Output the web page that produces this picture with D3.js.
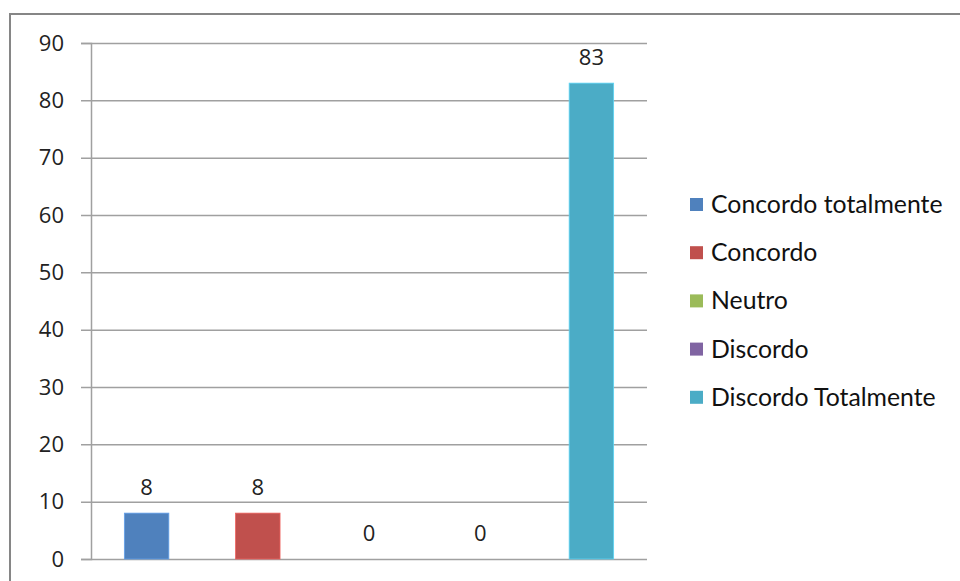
<!DOCTYPE html>
<html>
<head>
<meta charset="utf-8">
<script src="https://cdn.jsdelivr.net/npm/d3@7"></script>
<style>
  html, body { margin: 0; padding: 0; background: #fff; }
  svg { display: block; }
</style>
</head>
<body>
<svg id="chart" width="960" height="581"></svg>
<script>
// Survey answers and their share of responses
const categories = ["Concordo totalmente", "Concordo", "Neutro", "Discordo", "Discordo Totalmente"];
const values = [8, 8, 0, 0, 83];
const colors = ["#4F81BD", "#C0504D", "#9BBB59", "#8064A2", "#4BACC6"];
const yTicks = [0, 10, 20, 30, 40, 50, 60, 70, 80, 90];

const svg = d3.select("#chart");

// chart frame
svg.append("rect")
  .attr("x", 10).attr("y", 14)
  .attr("width", 970).attr("height", 600)
  .attr("fill", "#fff")
  .attr("stroke", "#868686").attr("stroke-width", 2);

const plot = { left: 91, right: 647, top: 43, bottom: 559 };

const x = d3.scaleBand()
  .domain(categories)
  .range([plot.left, plot.right])
  .paddingInner(0.6)
  .paddingOuter(0.3);

const y = d3.scaleLinear()
  .domain([0, 90])
  .range([plot.bottom, plot.top]);

// value axis with gridlines running across the plot
const grid = svg.append("g")
  .attr("transform", `translate(${plot.left},0)`)
  .call(d3.axisLeft(y)
    .tickValues(yTicks)
    .tickSize(10)
    .tickPadding(17)
    .tickFormat(d3.format("d")));

grid.select(".domain").attr("stroke", "#a0a0a0").attr("stroke-width", 1.5);
grid.selectAll(".tick line")
  .attr("x1", -10)
  .attr("x2", plot.right - plot.left)
  .attr("stroke", "#a0a0a0")
  .attr("stroke-width", 1.5);
grid.selectAll(".tick text")
  .attr("fill", "#222")
  .style("font-family", "'Open Sans', sans-serif")
  .style("font-size", "22px");

// bars
svg.append("g")
  .selectAll("rect")
  .data(values)
  .join("rect")
  .attr("x", (d, i) => x(categories[i]))
  .attr("y", d => y(d))
  .attr("width", x.bandwidth())
  .attr("height", d => y(0) - y(d))
  .attr("fill", (d, i) => colors[i])
  .attr("stroke", (d, i) => d3.color(colors[i]).brighter(0.6))
  .attr("stroke-width", 0.8);

// value labels above each bar
svg.append("g")
  .selectAll("text")
  .data(values)
  .join("text")
  .attr("x", (d, i) => x(categories[i]) + x.bandwidth() / 2)
  .attr("y", d => y(d) - 18)
  .attr("text-anchor", "middle")
  .attr("fill", "#222")
  .style("font-family", "'Open Sans', sans-serif")
  .style("font-size", "22px")
  .text(d => d);

// legend
const legend = svg.append("g").attr("transform", "translate(690,0)");
const rows = legend.selectAll("g")
  .data(categories)
  .join("g")
  .attr("transform", (d, i) => `translate(0,${205 + i * 48.2})`);

rows.append("rect")
  .attr("x", 0).attr("y", -7)
  .attr("width", 13).attr("height", 13)
  .attr("fill", (d, i) => colors[i]);

rows.append("text")
  .attr("x", 21)
  .attr("y", 8)
  .attr("fill", "#111")
  .style("font-family", "Lato, sans-serif")
  .style("font-size", "24.8px")
  .text(d => d);
</script>
</body>
</html>
